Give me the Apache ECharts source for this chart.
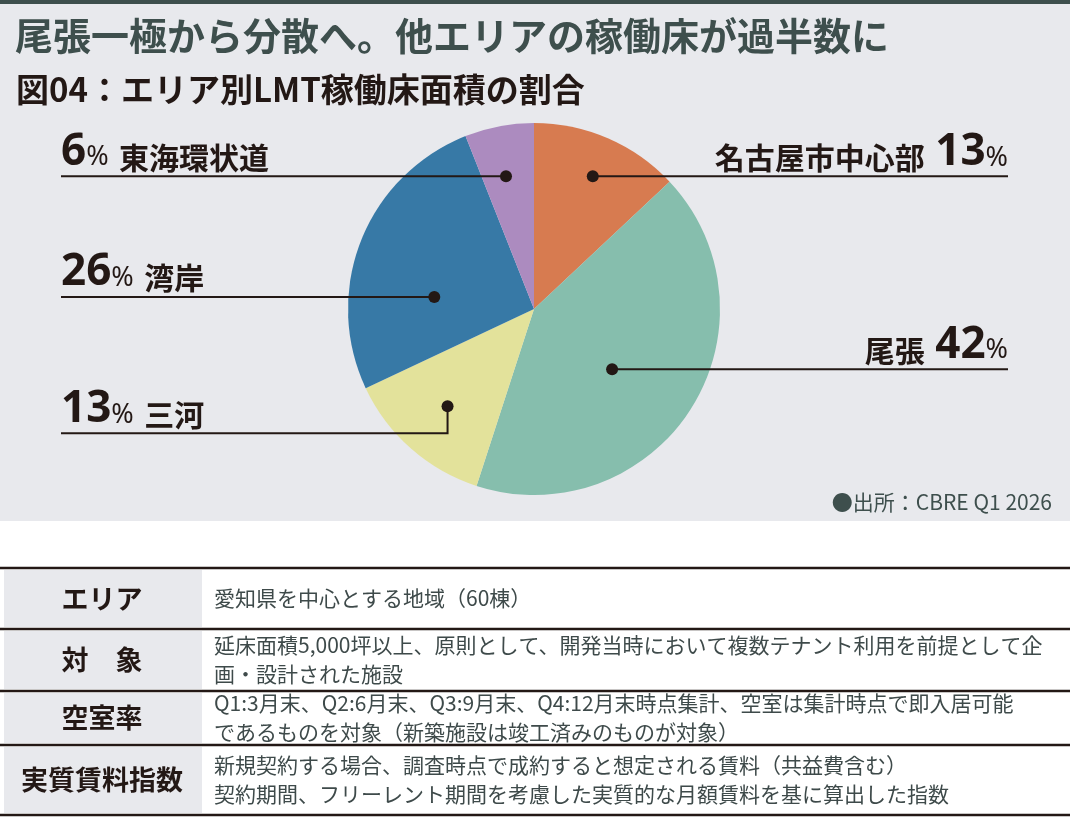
<!DOCTYPE html>
<html>
<head>
<meta charset="utf-8">
<script src="https://cdn.jsdelivr.net/npm/echarts@6/dist/echarts.min.js"></script>
<style>
  html, body { margin: 0; padding: 0; background: #fff; }
  #chart { width: 1070px; height: 820px; }
</style>
</head>
<body>
<div id="chart"></div>
<script>
// データ
const categories = ['名古屋市中心部', '尾張', '三河', '湾岸', '東海環状道'];
const shares = [13, 42, 13, 26, 6];
const sourceNote = '●出所：CBRE Q1 2026';
const rowHeads = ['エリア', '対　象', '空室率', '実質賃料指数'];
const rowTexts = [
    ['愛知県を中心とする地域（60棟）'],
    ['延床面積5,000坪以上、原則として、開発当時において複数テナント利用を前提として企', '画・設計された施設'],
    ['Q1:3月末、Q2:6月末、Q3:9月末、Q4:12月末時点集計、空室は集計時点で即入居可能', 'であるものを対象（新築施設は竣工済みのものが対象）'],
    ['新規契約する場合、調査時点で成約すると想定される賃料（共益費含む）', '契約期間、フリーレント期間を考慮した実質的な月額賃料を基に算出した指数']
];

// レイアウト
const W = 1070;
const CX = 534, CY = 309, R = 186;
const colors = ['#D77B50', '#86BEAD', '#E3E29B', '#3779A6', '#AC8BBF'];
const labelSide = ['right', 'right', 'left', 'left', 'left'];
const dotShift = [0.5, 5.2, 0.2, -14.7, -1.1];   // 角度の調整
const dotFrac = [0.78, 0.53, 0.70, 0.54, 0.73];
const lineDrop = [0, 0, 27, 0, 0];
const LEFT_END = 61, RIGHT_END = 1008;
const rowLines = [568, 629, 691, 745, 815];

const JP = "'Noto Sans CJK JP', 'Noto Sans', sans-serif";
const INK = '#231815';
const SLATE = '#3E4F4D';

const graphics = [];

// 背景
graphics.push({ type: 'rect', z: -1, shape: { x: 0, y: 0, width: W, height: 521 }, style: { fill: '#E8E9ED' } });
graphics.push({ type: 'rect', z: -1, shape: { x: 0, y: 0, width: W, height: 4 }, style: { fill: SLATE } });

// タイトル
graphics.push({
    type: 'text', z: 5,
    style: { text: '尾張一極から分散へ。他エリアの稼働床が過半数に', x: 15, y: 36, fill: SLATE,
        fontSize: 38, fontWeight: 'bold', fontFamily: JP, verticalAlign: 'middle', textVerticalAlign: 'middle' }
});
graphics.push({
    type: 'text', z: 5,
    style: { text: '図04：エリア別LMT稼働床面積の割合', x: 16, y: 89, fill: INK,
        fontSize: 33, fontWeight: 'bold', fontFamily: JP, verticalAlign: 'middle', textVerticalAlign: 'middle' }
});

// ラベル
const total = shares.reduce((a, b) => a + b, 0);
let acc = 0;
const richStyle = {
    n: { fontSize: 44, fontWeight: 'bold', fontFamily: "'Noto Sans', sans-serif", fill: INK, verticalAlign: 'bottom' },
    p: { fontSize: 27, fontFamily: "'Noto Sans', sans-serif", fill: INK, verticalAlign: 'bottom', padding: [0, 0, 3, 0] },
    t: { fontSize: 30, fontWeight: 'bold', fontFamily: JP, fill: INK, verticalAlign: 'bottom', padding: [0, 0, 2, 0] },
    s: { fontSize: 40, fontFamily: "'Noto Sans', sans-serif", verticalAlign: 'bottom' }
};
shares.forEach((v, i) => {
    const mid = (acc + v / 2) / total * 360;
    acc += v;
    const a = (mid + dotShift[i]) * Math.PI / 180;
    const dx = CX + dotFrac[i] * R * Math.sin(a);
    const dy = CY - dotFrac[i] * R * Math.cos(a);
    const ly = dy + lineDrop[i];
    const right = labelSide[i] === 'right';
    const endX = right ? RIGHT_END : LEFT_END;
    const pts = lineDrop[i] ? [[dx, dy], [dx, ly], [endX, ly]] : [[dx, dy], [endX, ly]];
    graphics.push({ type: 'polyline', z: 10, shape: { points: pts }, style: { stroke: INK, lineWidth: 2, fill: null } });
    graphics.push({ type: 'circle', z: 11, shape: { cx: dx, cy: dy, r: 6 }, style: { fill: INK } });
    const txt = right
        ? '{t|' + categories[i] + '}{s| }{n|' + v + '}{p|%}'
        : '{n|' + v + '}{p|%}{s| }{t|' + categories[i] + '}';
    graphics.push({
        type: 'text', z: 12,
        style: { text: txt, x: endX, y: ly - 2, rich: richStyle,
            align: right ? 'right' : 'left', textAlign: right ? 'right' : 'left',
            verticalAlign: 'bottom', textVerticalAlign: 'bottom' }
    });
});

// 出所
graphics.push({
    type: 'text', z: 5,
    style: { text: sourceNote, x: 1052, y: 502, fill: SLATE, fontSize: 21, fontFamily: JP,
        align: 'right', textAlign: 'right', verticalAlign: 'middle', textVerticalAlign: 'middle' }
});

// 表
rowHeads.forEach((h, i) => {
    const top = rowLines[i], bot = rowLines[i + 1];
    const mid = (top + bot) / 2;
    graphics.push({ type: 'rect', z: 1, shape: { x: 4, y: top + 2, width: 198, height: bot - top - 4 }, style: { fill: '#E8E9ED' } });
    graphics.push({
        type: 'text', z: 5,
        style: { text: h, x: 102, y: mid, fill: INK, fontSize: 27, fontWeight: 'bold', fontFamily: JP,
            align: 'center', textAlign: 'center', verticalAlign: 'middle', textVerticalAlign: 'middle' }
    });
    const lines = rowTexts[i];
    const gap = 29;
    lines.forEach((t, j) => {
        graphics.push({
            type: 'text', z: 5,
            style: { text: t, x: 214, y: mid + (j - (lines.length - 1) / 2) * gap, fill: '#3E4A4A',
                fontSize: 21, fontFamily: JP, verticalAlign: 'middle', textVerticalAlign: 'middle' }
        });
    });
});
rowLines.forEach(y => {
    graphics.push({ type: 'line', z: 6, shape: { x1: 0, y1: y, x2: W, y2: y }, style: { stroke: INK, lineWidth: 2.5 } });
});

const chart = echarts.init(document.getElementById('chart'));
chart.setOption({
    animation: false,
    backgroundColor: '#ffffff',
    color: colors,
    series: [{
        type: 'pie',
        center: [CX, CY],
        radius: R,
        startAngle: 90,
        clockwise: true,
        silent: true,
        label: { show: false },
        labelLine: { show: false },
        itemStyle: { borderWidth: 0 },
        data: categories.map((c, i) => ({ name: c, value: shares[i] }))
    }],
    graphic: { elements: graphics }
});
</script>
</body>
</html>
